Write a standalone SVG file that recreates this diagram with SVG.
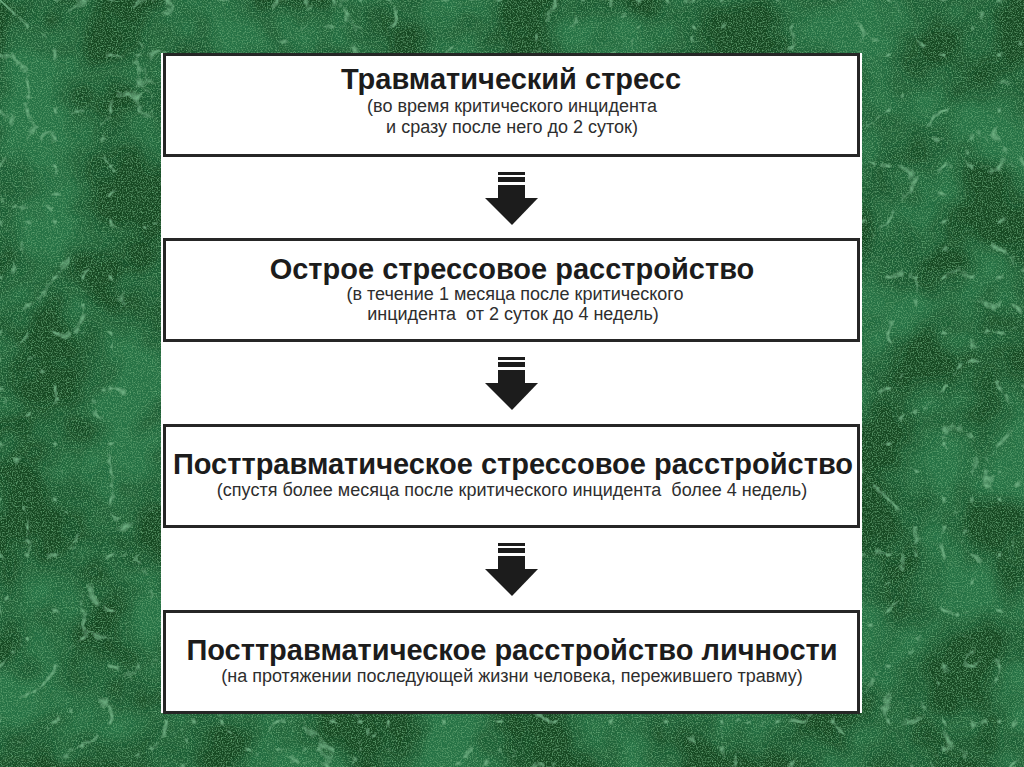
<svg xmlns="http://www.w3.org/2000/svg" width="1024" height="767" viewBox="0 0 1024 767">
  <defs>
    <filter id="marble" x="0" y="0" width="100%" height="100%">
      <feTurbulence type="fractalNoise" baseFrequency="0.012" numOctaves="3" seed="11" result="n0"/>
      <feColorMatrix in="n0" type="matrix" values="0 0 0 0 0.02  0 0 0 0 0.17  0 0 0 0 0.06  0 0 0 -3 1.9" result="dark"/>
      <feTurbulence type="turbulence" baseFrequency="0.018" numOctaves="4" seed="7" result="n1"/>
      <feColorMatrix in="n1" type="matrix" values="0 0 0 0 0.20  0 0 0 0 0.52  0 0 0 0 0.28  0 0 0 -7 0.85" result="veins"/>
      <feTurbulence type="fractalNoise" baseFrequency="0.8" numOctaves="2" seed="3" result="n2"/>
      <feColorMatrix in="n2" type="matrix" values="0 0 0 0 0.16  0 0 0 0 0.48  0 0 0 0 0.22  0 0 0 1.8 -0.85" result="speck"/>
      <feMerge><feMergeNode in="SourceGraphic"/><feMergeNode in="dark"/><feMergeNode in="veins"/><feMergeNode in="speck"/></feMerge>
    </filter>
    <g id="arrow">
      <rect x="498" y="0" width="27" height="3"/>
      <rect x="498" y="5" width="27" height="5"/>
      <rect x="498" y="13" width="27" height="14"/>
      <polygon points="485,26 538,26 512,53"/>
    </g>
  </defs>
  <style>
    .box { fill: #ffffff; stroke: #262626; stroke-width: 3; }
    .title { font-family: "Liberation Sans", Arial, sans-serif; font-weight: bold; font-size: 29px; fill: #1c1c1c; text-anchor: middle; }
    .sub { font-family: "Liberation Sans", Arial, sans-serif; font-size: 18px; fill: #2e2e2e; text-anchor: middle; white-space: pre; }
    .arr { fill: #1c1c1c; }
  </style>
  <rect x="0" y="0" width="1024" height="767" fill="#124a24" filter="url(#marble)"/>
  <rect x="161" y="53" width="701" height="660" fill="#ffffff"/>

  <g id="node1">
    <rect class="box" x="164.5" y="54.5" width="694" height="101"/>
    <text class="title" x="511" y="89">Травматический стресс</text>
    <text class="sub" x="512" y="112">(во время критического инцидента</text>
    <text class="sub" x="512" y="133">и сразу после него до 2 суток)</text>
  </g>
  <g id="node2">
    <rect class="box" x="164.5" y="239.5" width="694" height="101"/>
    <text class="title" x="512" y="279">Острое стрессовое расстройство</text>
    <text class="sub" x="515" y="300">(в течение 1 месяца после критического</text>
    <text class="sub" x="513" y="320">инцидента  от 2 суток до 4 недель)</text>
  </g>
  <g id="node3">
    <rect class="box" x="164.5" y="425.5" width="694" height="101"/>
    <text class="title" x="513" y="474">Посттравматическое стрессовое расстройство</text>
    <text class="sub" x="512" y="496">(спустя более месяца после критического инцидента  более 4 недель)</text>
  </g>
  <g id="node4">
    <rect class="box" x="164.5" y="611.5" width="694" height="101"/>
    <text class="title" x="512" y="660">Посттравматическое расстройство личности</text>
    <text class="sub" x="512" y="682">(на протяжении последующей жизни человека, пережившего травму)</text>
  </g>

  <g id="connectors" class="arr">
    <use href="#arrow" transform="translate(0,172)"/>
    <use href="#arrow" transform="translate(0,357)"/>
    <use href="#arrow" transform="translate(0,543)"/>
  </g>
</svg>
